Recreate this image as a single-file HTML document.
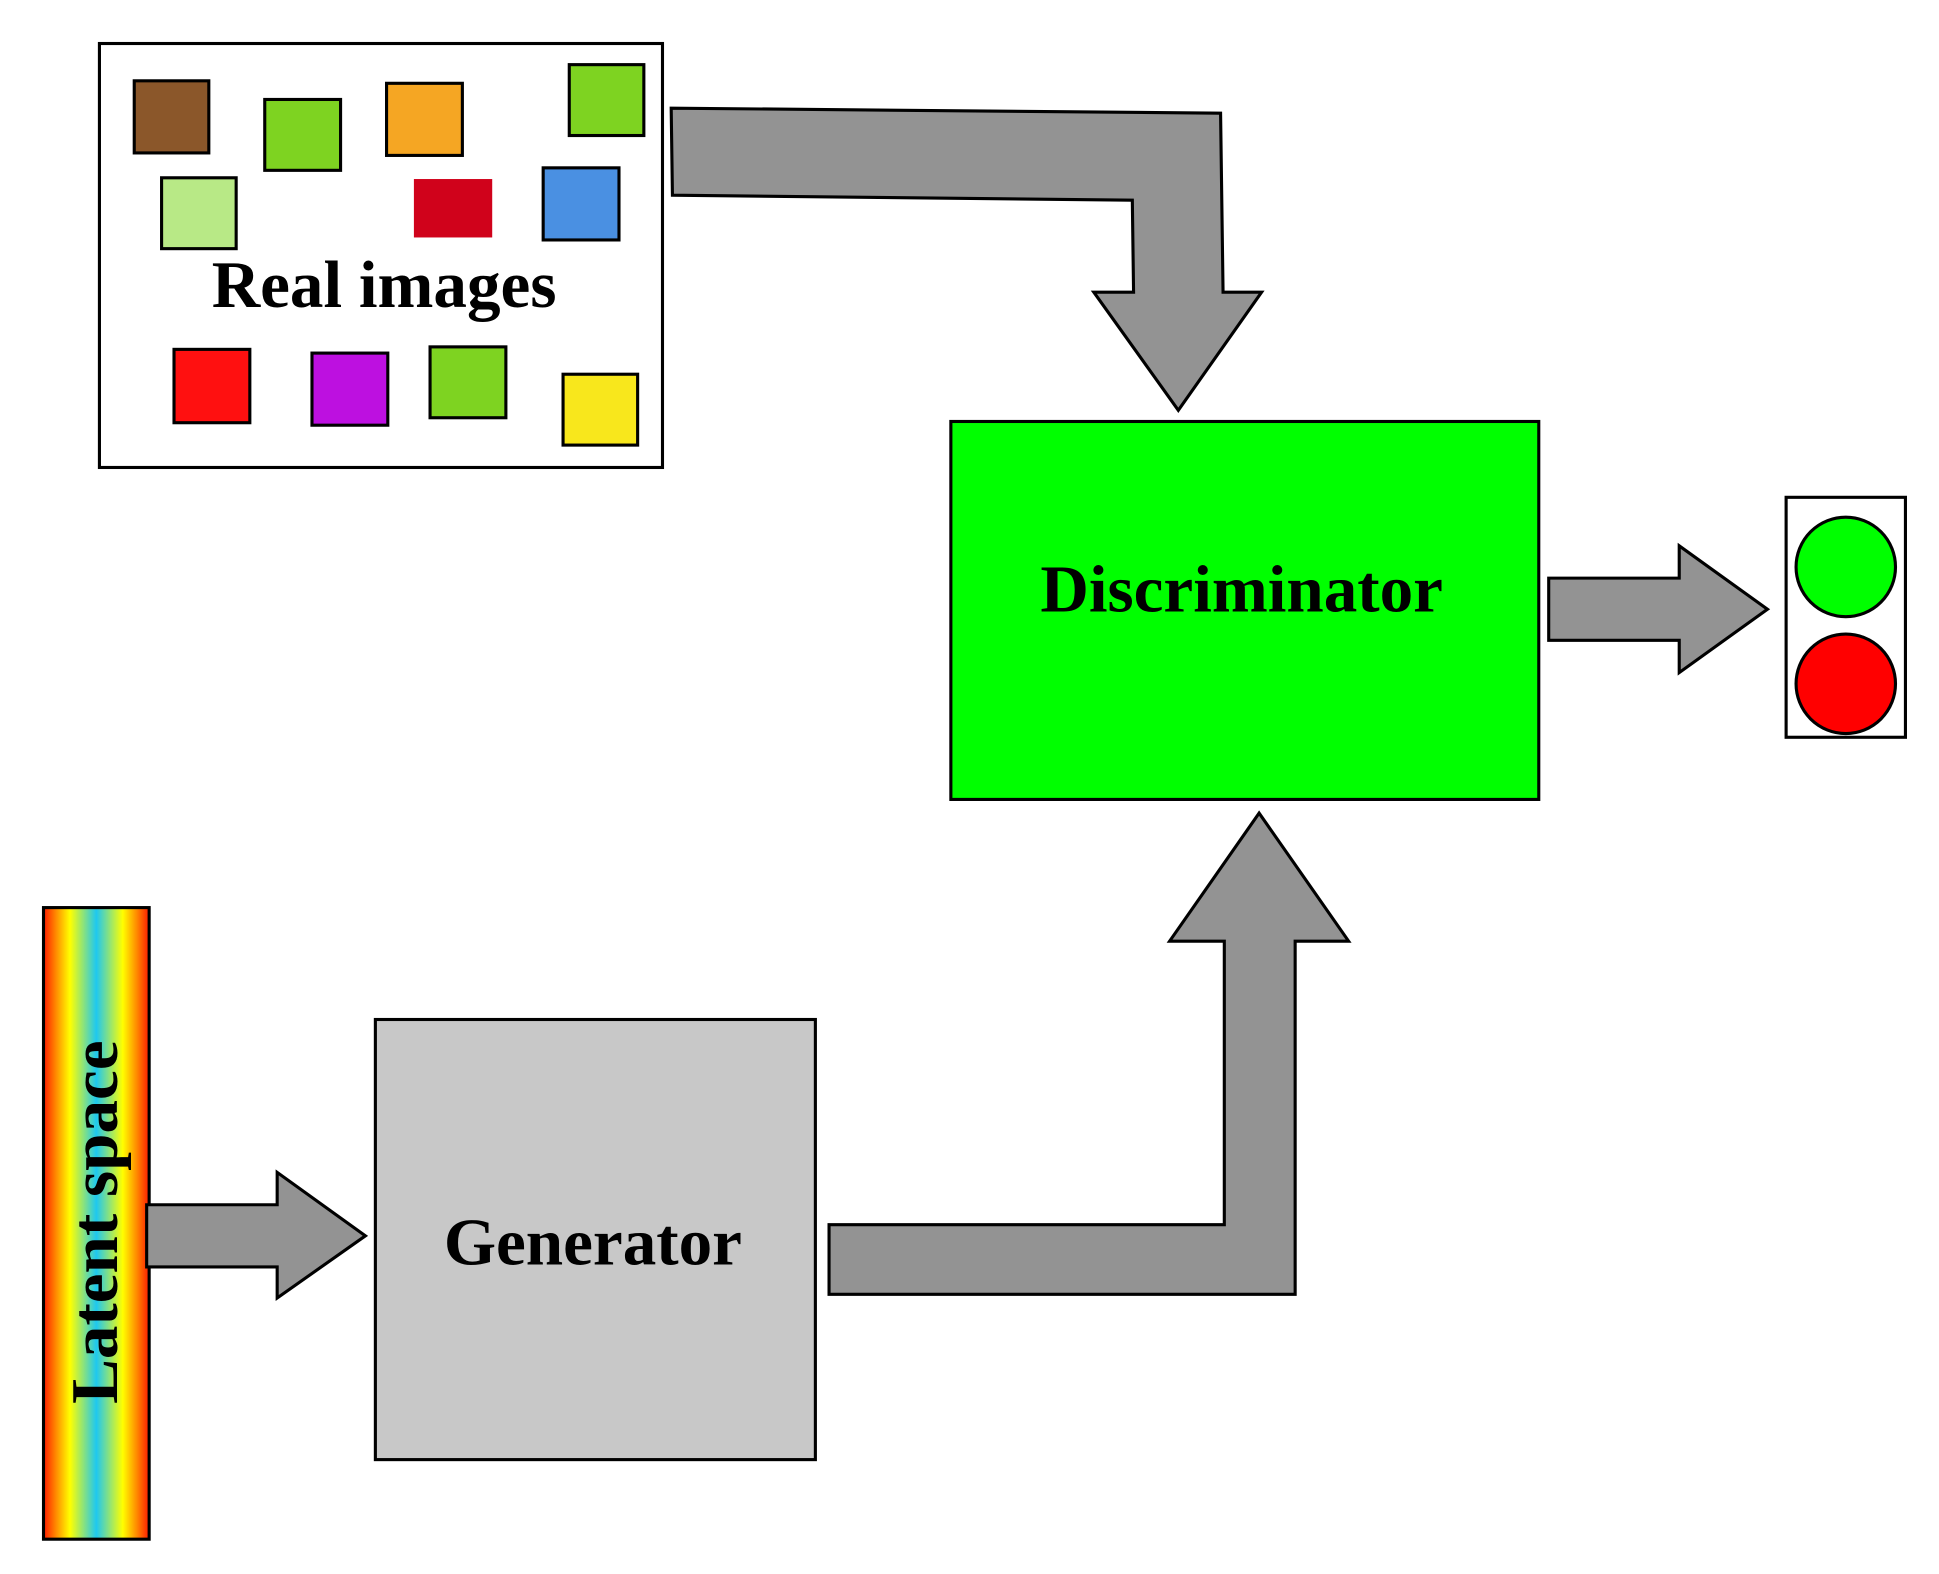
<!DOCTYPE html>
<html><head><meta charset="utf-8"><style>
html,body{margin:0;padding:0;background:#fff;}
svg{display:block;}
text{font-family:"Liberation Serif","DejaVu Serif",serif;font-weight:bold;fill:#000;}
</style></head><body>
<svg width="1939" height="1574" viewBox="0 0 1560 1266" preserveAspectRatio="none" xmlns="http://www.w3.org/2000/svg">
<defs>
<linearGradient id="rb" x1="0" y1="0" x2="1" y2="0">
<stop offset="0" stop-color="#ff1a00"/>
<stop offset="0.12" stop-color="#ff8c00"/>
<stop offset="0.25" stop-color="#ffff00"/>
<stop offset="0.5" stop-color="#1ec8f0"/>
<stop offset="0.75" stop-color="#ffff00"/>
<stop offset="0.88" stop-color="#ff8c00"/>
<stop offset="1" stop-color="#ff1a00"/>
</linearGradient>
</defs>
<g stroke="#000" stroke-width="2.5">
<rect x="80" y="35" width="453" height="341" fill="#fff"/>
<rect x="108" y="65" width="60" height="58" fill="#8b572a"/>
<rect x="213" y="80" width="61" height="57" fill="#7ed321"/>
<rect x="311" y="67" width="61" height="58" fill="#f5a623"/>
<rect x="458" y="52" width="60" height="57" fill="#7ed321"/>
<rect x="130" y="143" width="60" height="57" fill="#b8e986"/>
<rect x="333" y="144" width="63" height="47" fill="#d0021b" stroke="none"/>
<rect x="437" y="135" width="61" height="58" fill="#4a90e2"/>
<rect x="140" y="281" width="61" height="59" fill="#ff1010"/>
<rect x="251" y="284" width="61" height="58" fill="#bd10e0"/>
<rect x="346" y="279" width="61" height="57" fill="#7ed321"/>
<rect x="453" y="301" width="60" height="57" fill="#f8e71c"/>

<polygon points="540,87 982,91 984,235 1015,235 948,330 880,235 912,235 911,161 541,157" fill="#939393"/>
<rect x="765" y="339" width="473" height="304" fill="#00ff00"/>
<polygon points="1246,465 1351,465 1351,439 1422,490 1351,541 1351,515 1246,515" fill="#939393"/>
<rect x="1437" y="400" width="96" height="193" fill="#fff"/>
<circle cx="1485" cy="456" r="40" fill="#00ff00"/>
<circle cx="1485" cy="550" r="40" fill="#ff0000"/>
<polygon points="667,985 985,985 985,757 941,757 1013,654 1085,757 1042,757 1042,1041 667,1041" fill="#939393"/>
<rect x="302" y="820" width="354" height="354" fill="#c8c8c8"/>
<rect x="35" y="730" width="85" height="508" fill="url(#rb)"/>
<polygon points="118,969 223,969 223,943 294,994 223,1044 223,1019 118,1019" fill="#939393"/>
</g>
<text x="309" y="247" font-size="54" text-anchor="middle">Real images</text>
<text x="999" y="492" font-size="54" text-anchor="middle">Discriminator</text>
<text x="477" y="1017" font-size="54" text-anchor="middle">Generator</text>
<text transform="translate(94,983) rotate(-90)" font-size="54" text-anchor="middle">Latent space</text>
</svg>
</body></html>
